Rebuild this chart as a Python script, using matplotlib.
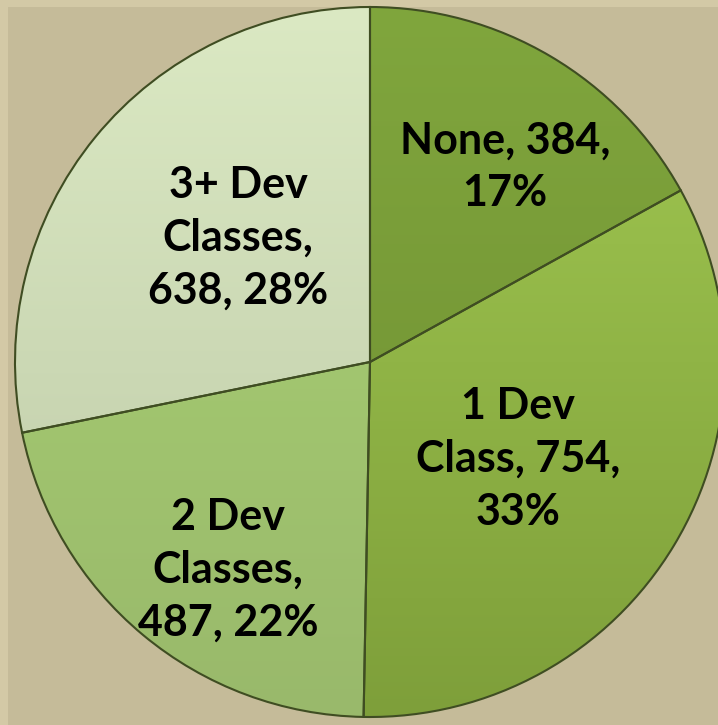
import numpy as np
import matplotlib.pyplot as plt
from matplotlib.colors import LinearSegmentedColormap
from matplotlib.patches import Rectangle

# Données du graphique
categories = ["None", "1 Dev Class", "2 Dev Classes", "3+ Dev Classes"]
counts = [384, 754, 487, 638]
label_texts = ["None, 384,\n17%", "1 Dev\nClass, 754,\n33%",
               "2 Dev\nClasses,\n487, 22%", "3+ Dev\nClasses,\n638, 28%"]
label_pos = [(505, 167), (518, 459), (228, 570), (238, 238)]

# Couleurs (haut / bas du dégradé)
top_colors = ["#80A63D", "#A2C952", "#ABD374", "#DBE9C3"]
bottom_colors = ["#6E8D31", "#7E9F3A", "#99B96B", "#BCC8A6"]

W, H = 718, 725
cx, cy, R = 370, H - 362, 355

fig = plt.figure(figsize=(W / 100, H / 100), dpi=100, facecolor="#D3C9A6")
ax = fig.add_axes([0, 0, 1, 1])
ax.add_patch(Rectangle((8, 0), W - 8, H - 7, facecolor="#C5BB99", edgecolor="none", zorder=0))

wedges, _ = ax.pie(counts, startangle=90, counterclock=False, center=(cx, cy), radius=R,
                   colors=top_colors, frame=True,
                   wedgeprops=dict(edgecolor="#3F4D22", linewidth=1.5))
ax.set_xlim(0, W)
ax.set_ylim(0, H)
ax.axis("off")

# Dégradé vertical dans chaque secteur
grad = np.linspace(0, 1, 256).reshape(-1, 1)
for w, c_top, c_bot in zip(wedges, top_colors, bottom_colors):
    cmap = LinearSegmentedColormap.from_list("g", [c_bot, c_top])
    im = ax.imshow(grad, cmap=cmap, origin="lower", aspect="auto",
                   extent=(cx - R, cx + R, cy - R, cy + R), zorder=1.5)
    im.set_clip_path(w)
    w.set_facecolor("none")
    w.set_zorder(2)

for txt, (x, y) in zip(label_texts, label_pos):
    ax.text(x, H - y, txt, ha="center", va="center", fontsize=31, fontweight="bold",
            family="Lato", color="black", linespacing=1.38, zorder=3)

fig.savefig("out.png", dpi=100, facecolor=fig.get_facecolor())
